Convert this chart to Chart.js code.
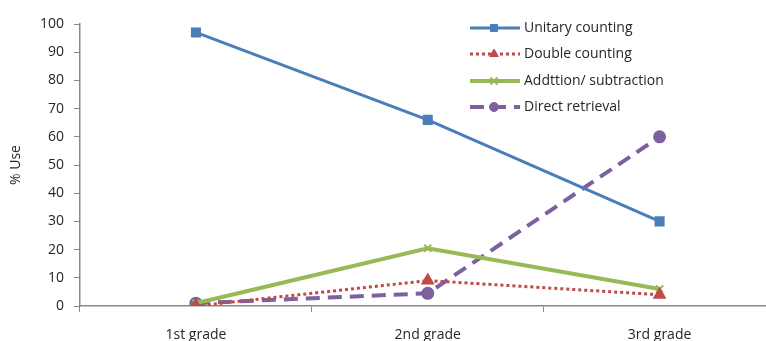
<!DOCTYPE html>
<html>
<head>
<meta charset="utf-8">
<script src="https://cdn.jsdelivr.net/npm/chart.js@4.4.1/dist/chart.umd.min.js"></script>
<style>
  html, body { margin: 0; padding: 0; background: #fff; overflow: hidden; }
  canvas { display: block; }
</style>
</head>
<body>
<canvas id="strategyChart" width="784" height="341"></canvas>
<script>
const grades = ["1st grade", "2nd grade", "3rd grade"];
const unitaryCounting = [97, 66, 30];
const doubleCounting = [0, 9, 4];
const additionSubtraction = [1, 20.5, 6];
const directRetrieval = [1, 4.5, 60];
const yTicks = [0, 10, 20, 30, 40, 50, 60, 70, 80, 90, 100];

const FONT = "'Open Sans', 'Liberation Sans', sans-serif";

// legend drawn inside the plot, like the original
const legendInside = {
  id: "legendInside",
  afterDraw(chart) {
    const ctx = chart.ctx;
    const rows = [28, 54, 81, 107];
    chart.data.datasets.forEach((ds, i) => {
      const y = rows[i];
      ctx.save();
      ctx.strokeStyle = ds.borderColor;
      ctx.lineWidth = ds.borderWidth;
      ctx.setLineDash(ds.borderDash || []);
      ctx.beginPath();
      ctx.moveTo(470, y);
      ctx.lineTo(520, y);
      ctx.stroke();
      ctx.setLineDash([]);
      ctx.fillStyle = ds.borderColor;
      ctx.lineWidth = ds.pointStyle === "crossRot" ? 2 : 1;
      Chart.helpers.drawPoint(ctx, {
        pointStyle: ds.pointStyle,
        radius: ds.pointRadius,
        borderWidth: ctx.lineWidth,
        rotation: 0
      }, 494, y);
      ctx.fillStyle = "#262626";
      ctx.font = "14px " + FONT;
      ctx.textBaseline = "middle";
      ctx.fillText(ds.label, 524, y);
      ctx.restore();
    });
  }
};

new Chart(document.getElementById("strategyChart"), {
  type: "line",
  data: {
    labels: grades,
    datasets: [
      {
        label: "Unitary counting",
        data: unitaryCounting,
        borderColor: "#4a7ebb",
        backgroundColor: "#4a7ebb",
        borderWidth: 3,
        pointStyle: "rect",
        pointRadius: 5
      },
      {
        label: "Double counting",
        data: doubleCounting,
        borderColor: "#be4b48",
        backgroundColor: "#be4b48",
        borderWidth: 3,
        borderDash: [3, 3],
        pointStyle: "triangle",
        pointRadius: 5
      },
      {
        label: "Addttion/ subtraction",
        data: additionSubtraction,
        borderColor: "#98b954",
        backgroundColor: "#98b954",
        borderWidth: 4,
        pointStyle: "crossRot",
        pointRadius: 5,
        pointBorderWidth: 2
      },
      {
        label: "Direct retrieval",
        data: directRetrieval,
        borderColor: "#7d60a0",
        backgroundColor: "#7d60a0",
        borderWidth: 4,
        borderDash: [14, 8],
        pointStyle: "circle",
        pointRadius: 4.5
      }
    ]
  },
  options: {
    responsive: false,
    animation: false,
    layout: { padding: { top: 24, right: 0, left: 0, bottom: 0 } },
    plugins: {
      legend: { display: false },
      tooltip: { enabled: false }
    },
    scales: {
      x: {
        offset: true,
        grid: { drawOnChartArea: false, tickLength: 6, color: "#888", offset: true },
        border: { color: "#888", width: 1.5 },
        ticks: { color: "#262626", font: { family: FONT, size: 14 }, padding: 15, maxRotation: 0 },
        afterFit(scale) { scale.height = 35; }
      },
      y: {
        min: 0,
        max: 100,
        afterBuildTicks(scale) { scale.ticks = yTicks.map(v => ({ value: v })); },
        grid: { drawOnChartArea: false, tickLength: 6, color: "#888" },
        border: { color: "#888", width: 1.5 },
        ticks: { color: "#262626", font: { family: FONT, size: 14 }, padding: 10 },
        title: { display: true, text: "% Use", color: "#262626", font: { family: FONT, size: 14 }, padding: { top: 8, bottom: 0 } },
        afterFit(scale) { scale.width = 80; }
      }
    }
  },
  plugins: [legendInside]
});
</script>
</body>
</html>
